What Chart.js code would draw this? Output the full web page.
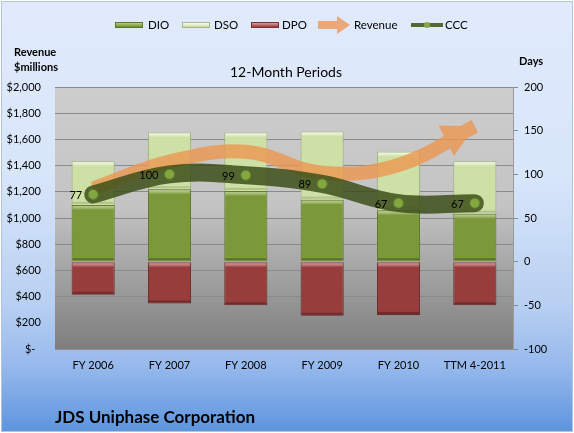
<!DOCTYPE html>
<html>
<head>
<meta charset="utf-8">
<script src="https://cdn.jsdelivr.net/npm/chart.js@4.4.0/dist/chart.umd.min.js"></script>
<style>
body { margin: 0; background: #fff; font-family: Lato, sans-serif; }
#wrap { position: relative; width: 574px; height: 433px; overflow: hidden; }
#bg { position: absolute; left: 1px; top: 1px; width: 570px; height: 429px; border: 1px solid #b4c4da;
  background: linear-gradient(to bottom, #e0eafb 0%, #d8e6fa 40%, #b9d0f2 70%, #96b9ec 85%, #5d95de 100%); }
canvas { position: absolute; left: 0; top: 0; }
.t { position: absolute; white-space: nowrap; color: #000; }
.b { font-weight: bold; }
.sw { position: absolute; height: 6px; width: 28px; top: 22px; box-sizing: border-box; }
</style>
</head>
<body>
<div id="wrap">
  <div id="bg"></div>
  <canvas id="chart" width="574" height="433"></canvas>

  <!-- legend -->
  <div class="sw" style="left:115px;background:linear-gradient(#b4cf78,#6f8f32);border:1px solid #5a7629;"></div>
  <div class="t" style="left:148px;top:18px;font-size:11.5px;line-height:14px;">DIO</div>
  <div class="sw" style="left:182px;background:linear-gradient(#fbfdf4,#c7daa2);border:1px solid #a6b985;"></div>
  <div class="t" style="left:214px;top:18px;font-size:11.5px;line-height:14px;">DSO</div>
  <div class="sw" style="left:251px;background:linear-gradient(#e09a9a,#9a3c3c);border:1px solid #7a3030;"></div>
  <div class="t" style="left:282px;top:18px;font-size:11.5px;line-height:14px;">DPO</div>
  <div style="position:absolute;left:318px;top:21px;width:20px;height:8px;background:#eba878;"></div>
  <div style="position:absolute;left:337px;top:16px;width:0;height:0;border-top:9px solid transparent;border-bottom:9px solid transparent;border-left:13px solid #eba878;"></div>
  <div class="t" style="left:354px;top:18px;font-size:11.5px;line-height:14px;">Revenue</div>
  <div style="position:absolute;left:411px;top:23px;width:32px;height:4px;background:#55682e;"></div>
  <div style="position:absolute;left:424px;top:22px;width:6px;height:6px;border-radius:50%;background:#86a844;"></div>
  <div class="t" style="left:445px;top:18px;font-size:11.5px;line-height:14px;">CCC</div>

  <!-- titles -->
  <div class="t b" style="left:14px;top:45px;font-size:11px;line-height:14px;">Revenue</div>
  <div class="t b" style="left:14px;top:60px;font-size:11px;line-height:14px;">$millions</div>
  <div class="t b" style="left:519px;top:54px;font-size:11px;line-height:14px;">Days</div>
  <div class="t" style="left:186px;width:200px;text-align:center;top:63px;font-size:14px;line-height:18px;">12-Month Periods</div>
  <div class="t b" style="left:55px;top:406px;font-size:17px;line-height:22px;">JDS Uniphase Corporation</div>
</div>

<script>
var categories = ['FY 2006', 'FY 2007', 'FY 2008', 'FY 2009', 'FY 2010', 'TTM 4-2011'];
var dio = [65, 83, 81, 71, 59, 55];
var dso = [50, 65, 67, 78, 67, 60];
var dpo = [-38, -48, -50, -62, -61, -50];
var ccc = [77, 100, 99, 89, 67, 67];
var revenue = [1225, 1430, 1505, 1345, 1405, 1700];

var revenueColor = 'rgba(236,150,80,0.8)';

// grey gradient behind the plot
var plotBg = {
    id: 'plotBg',
    beforeDraw: function(chart) {
        var ctx = chart.ctx, a = chart.chartArea;
        var g = ctx.createLinearGradient(0, a.top, 0, a.bottom);
        g.addColorStop(0, '#cdcdcd');
        g.addColorStop(0.45, '#c4c4c4');
        g.addColorStop(1, '#7e7e7e');
        ctx.save();
        ctx.fillStyle = g;
        ctx.fillRect(a.left, a.top, a.right - a.left, a.bottom - a.top);
        ctx.restore();
    }
};

// light strip on top and dark strip at bottom of every bar
var barBevel = {
    id: 'barBevel',
    afterDatasetDraw: function(chart, args) {
        var meta = args.meta;
        if (meta.type !== 'bar') return;
        var ds = chart.data.datasets[args.index];
        var ctx = chart.ctx;
        ctx.save();
        meta.data.forEach(function(el) {
            var p = el.getProps(['x', 'y', 'base', 'width'], true);
            var top = Math.min(p.y, p.base), bottom = Math.max(p.y, p.base);
            var left = p.x - p.width / 2;
            var g = ctx.createLinearGradient(0, top, 0, top + 5);
            g.addColorStop(0, ds.hiColor);
            g.addColorStop(1, 'rgba(255,255,255,0)');
            ctx.fillStyle = g;
            ctx.fillRect(left + 1, top + 1, p.width - 2, 5);
            ctx.fillStyle = ds.loColor;
            ctx.fillRect(left + 1, bottom - 3, p.width - 2, 2);
        });
        ctx.restore();
    }
};

// arrow head at the end of the revenue line
function arrowPath(chart, ctx) {
    var pts = chart.getDatasetMeta(1).data;
    var p = pts[pts.length - 1], q = pts[pts.length - 2];
    var dx = p.x - q.x, dy = p.y - q.y;
    var len = Math.sqrt(dx * dx + dy * dy);
    dx /= len; dy /= len;
    var L = 32, W = 17;
    var bx = p.x - dx * L, by = p.y - dy * L;
    ctx.moveTo(p.x, p.y);
    ctx.lineTo(bx - dy * W, by + dx * W);
    ctx.lineTo(bx + dy * W, by - dx * W);
    ctx.closePath();
}

var revenueArrow = {
    id: 'revenueArrow',
    beforeDatasetDraw: function(chart, args) {
        if (args.index !== 1) return;
        var ctx = chart.ctx;
        ctx.save();
        ctx.beginPath();
        ctx.rect(0, 0, chart.width, chart.height);
        arrowPath(chart, ctx);
        ctx.clip('evenodd');
    },
    afterDatasetDraw: function(chart, args) {
        if (args.index !== 1) return;
        var ctx = chart.ctx;
        ctx.restore();
        ctx.save();
        ctx.beginPath();
        arrowPath(chart, ctx);
        ctx.fillStyle = revenueColor;
        ctx.fill();
        ctx.restore();
    }
};

// numbers left of the CCC points
var cccLabels = {
    id: 'cccLabels',
    afterDatasetsDraw: function(chart) {
        var ctx = chart.ctx;
        var meta = chart.getDatasetMeta(0);
        ctx.save();
        ctx.font = '11px Lato';
        ctx.fillStyle = '#000';
        ctx.textAlign = 'right';
        ctx.textBaseline = 'middle';
        meta.data.forEach(function(pt, i) {
            ctx.fillText(ccc[i], pt.x - 11, pt.y + 1);
        });
        ctx.restore();
    }
};

var tickFont = { family: 'Lato', size: 11 };

new Chart(document.getElementById('chart'), {
    data: {
        labels: categories,
        datasets: [
            {
                type: 'line', label: 'CCC', data: ccc, yAxisID: 'y1', stack: 'ccc', order: 0,
                borderColor: 'rgba(60,78,24,0.84)', borderWidth: 18, borderCapStyle: 'round', tension: 0.4,
                pointRadius: 5, pointBackgroundColor: '#82a640', pointBorderColor: '#5f7f2a', pointBorderWidth: 1
            },
            {
                type: 'line', label: 'Revenue', data: revenue, yAxisID: 'y', order: 1,
                borderColor: revenueColor, borderWidth: 14, tension: 0.4, pointRadius: 0
            },
            {
                type: 'bar', label: 'DIO', data: dio, yAxisID: 'y1', stack: 'days', order: 3,
                backgroundColor: '#7b993b', borderColor: '#5b7429', borderWidth: 1,
                hiColor: 'rgba(190,215,130,0.9)', loColor: 'rgba(70,90,30,0.6)'
            },
            {
                type: 'bar', label: 'DSO', data: dso, yAxisID: 'y1', stack: 'days', order: 4,
                backgroundColor: '#cde0a6', borderColor: '#9fb37c', borderWidth: 1,
                hiColor: 'rgba(255,255,240,1)', loColor: 'rgba(150,170,110,0.5)'
            },
            {
                type: 'bar', label: 'DPO', data: dpo, yAxisID: 'y1', stack: 'days', order: 5,
                backgroundColor: '#973d3c', borderColor: '#6b2828', borderWidth: 1,
                hiColor: 'rgba(225,140,140,0.95)', loColor: 'rgba(90,30,30,0.6)'
            }
        ]
    },
    options: {
        responsive: false,
        animation: false,
        events: [],
        layout: { padding: { top: 87, left: 0, right: 0, bottom: 0 } },
        plugins: { legend: { display: false }, tooltip: { enabled: false } },
        datasets: { bar: { barPercentage: 0.565, categoryPercentage: 1 } },
        scales: {
            x: {
                stacked: true, offset: true,
                grid: { display: false, drawTicks: false },
                border: { color: '#8c8c8c' },
                ticks: { color: '#000', font: tickFont, padding: 10, maxRotation: 0 },
                afterFit: function(s) { s.height = 84; }
            },
            y: {
                position: 'left', min: 0, max: 2000,
                grid: { color: '#8a8a8a', drawTicks: false },
                border: { display: false },
                ticks: {
                    stepSize: 200, color: '#000', font: tickFont, padding: 14,
                    callback: function(v) { return v === 0 ? '$-  ' : '$' + v.toLocaleString('en-US'); }
                },
                afterFit: function(s) { s.width = 55; }
            },
            y1: {
                position: 'right', stacked: true, min: -100, max: 200,
                grid: { drawOnChartArea: false, tickLength: 5, color: '#8a8a8a' },
                border: { color: '#9a9a9a' },
                ticks: { stepSize: 50, color: '#000', font: tickFont, padding: 6 },
                afterFit: function(s) { s.width = 61; }
            }
        }
    },
    plugins: [plotBg, barBevel, revenueArrow, cccLabels]
});
</script>
</body>
</html>
